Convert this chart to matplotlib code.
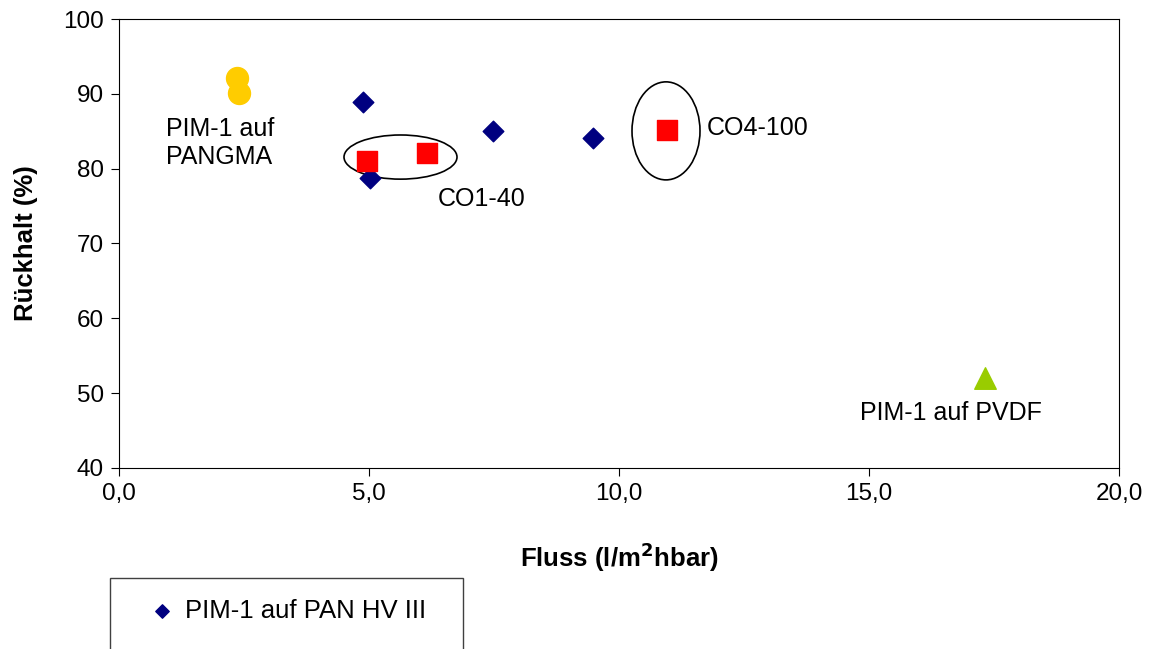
import matplotlib.pyplot as plt
from matplotlib.patches import Ellipse, Rectangle

plt.rcParams['font.family'] = ['Liberation Sans', 'DejaVu Sans']

# PIM-1 auf PAN HV III
pan_flux = [4.88, 5.02, 7.48, 9.48]
pan_ret = [88.9, 78.8, 85.0, 84.1]

# CO1-40 / CO4-100
co_flux = [4.96, 6.16, 10.96]
co_ret = [81.0, 82.1, 85.2]

# PIM-1 auf PANGMA
pangma_flux = [2.36, 2.40]
pangma_ret = [92.1, 90.1]

# PIM-1 auf PVDF
pvdf_flux = [17.32]
pvdf_ret = [52.0]

fig = plt.figure(figsize=(11.52, 6.49), dpi=100)
ax = fig.add_axes([119/1152, 1-468/649, 1000/1152, 449/649])

ax.scatter(pan_flux, pan_ret, marker='D', s=110, c='#000080', zorder=3,
           label='PIM-1 auf PAN HV III')
ax.scatter(co_flux, co_ret, marker='s', s=190, c='#ff0000', zorder=3)
ax.scatter(pangma_flux, pangma_ret, marker='o', s=250, c='#ffcc00', zorder=3)
ax.scatter(pvdf_flux, pvdf_ret, marker='^', s=240, c='#99cc00', zorder=3)

ax.add_patch(Ellipse((5.63, 81.55), 2.26, 5.9, fill=False, ec='black', lw=1.2))
ax.add_patch(Ellipse((10.94, 85.05), 1.36, 13.1, fill=False, ec='black', lw=1.2))

ax.text(0.94, 86.9, 'PIM-1 auf\nPANGMA', fontsize=18, va='top', ha='left',
        linespacing=1.2)
ax.text(7.26, 76.0, 'CO1-40', fontsize=18, va='center', ha='center')
ax.text(11.76, 85.4, 'CO4-100', fontsize=18, va='center', ha='left')
ax.text(16.64, 47.3, 'PIM-1 auf PVDF', fontsize=18, va='center', ha='center')

ax.set_xlim(0, 20)
ax.set_ylim(40, 100)
ax.set_xticks([0, 5, 10, 15, 20])
ax.set_xticklabels(['0,0', '5,0', '10,0', '15,0', '20,0'])
ax.set_yticks(range(40, 101, 10))
ax.tick_params(labelsize=17.5, direction='out', length=6, pad=5)
for s in ax.spines.values():
    s.set_color('black')

ax.set_xlabel('Fluss (l/m$^\\mathbf{2}$hbar)', fontsize=18.5, fontweight='bold',
              labelpad=25)
ax.set_ylabel('Rückhalt (%)', fontsize=18.5, fontweight='bold', labelpad=18)

fig.patches.append(Rectangle((110/1152, -0.05), 353/1152, 0.05 + 71/649,
                             transform=fig.transFigure, fill=False,
                             ec='#404040', lw=1))
fig.legend(loc='center left', bbox_to_anchor=(126/1152, 1-611/649),
           frameon=False, fontsize=18.5, handlelength=1.0, handletextpad=0.4,
           borderpad=0.4, markerscale=0.65)

fig.savefig('out.png', dpi=100)
